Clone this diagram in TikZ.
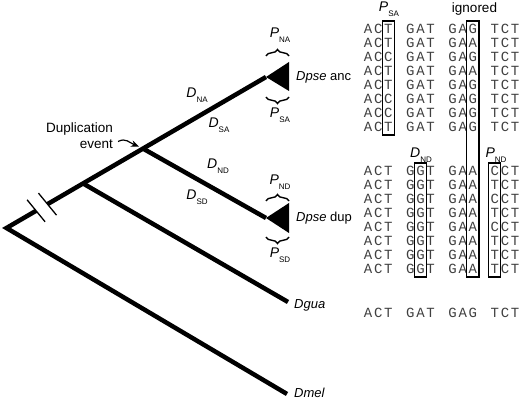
\documentclass[tikz,border=0pt]{standalone}
\usepackage{fontspec}
\setmainfont{Liberation Sans}
\newfontfamily\seqfont{Liberation Mono}
\usetikzlibrary{arrows.meta,calc,fit,decorations.pathreplacing}
\newcommand{\sublbl}[2]{\textit{#1}\raisebox{-4.5pt}{\fontsize{8}{8}\selectfont #2}}

\begin{document}
\begin{tikzpicture}[x=1pt, y=-1pt,
    % Tree styles
    branch/.style={line width=4.5pt},
    clade/.style={fill=black},
    brk/.style={line width=1.3pt},
    pbrace/.style={decorate, decoration={brace, amplitude=6.5pt}, line width=1.4pt},
    taxon/.style={anchor=west, inner sep=0pt, font=\fontsize{13}{15}\selectfont},
    note/.style={inner sep=0pt, font=\fontsize{13.5}{15.5}\selectfont},
    dlabel/.style={anchor=base, inner sep=0pt, font=\fontsize{14}{16}\selectfont},
    evarrow/.style={-{Stealth[length=8pt,width=6.5pt]}, line width=1.2pt},
    % Alignment styles
    seqchar/.style={font=\seqfont\fontsize{14}{14}\selectfont, text=black!75, minimum width=10.2pt, minimum height=14pt, inner sep=0pt},
    colbox/.style={draw, line width=1.2pt, inner sep=0.8pt}
]
\useasboundingbox (0,0) rectangle (520,401);

% Tree points
\coordinate (root) at (6.5,228);
\coordinate (ancA) at (266,77);
\coordinate (gua) at ($(root)!0.295!(ancA)$);
\coordinate (dupl) at ($(root)!0.526!(ancA)$);
\coordinate (brkA) at ($(root)!0.114!(ancA)$);
\coordinate (brkB) at ($(root)!0.158!(ancA)$);
\coordinate (dupA) at (266,218);
\coordinate (guaE) at (288,302);
\coordinate (melE) at (287,394);

% Branches
\draw[branch] (brkA) -- (root) -- (melE);
\draw[branch] (brkB) -- (ancA);
\draw[branch] (dupl) -- (dupA);
\draw[branch] (gua) -- (guaE);
\draw[brk] ($(brkA)+(-9,-11)$) -- ($(brkA)+(9,11)$);
\draw[brk] ($(brkB)+(-9,-11)$) -- ($(brkB)+(9,11)$);

% Collapsed clades
\fill[clade] (ancA) -- ++(23,-15) -- ++(0,29) -- cycle;
\fill[clade] (dupA) -- ++(23,-15) -- ++(0,30) -- cycle;

% Braces and P labels
\draw[pbrace] (266,56) -- (289,56);
\draw[pbrace] (289,97) -- (266,97);
\draw[pbrace] (266,201) -- (289,201);
\draw[pbrace] (289,237) -- (266,237);
\node[dlabel] (pna) at (280,38) {\sublbl{P}{NA}};
\node[dlabel] (psa) at (280,118) {\sublbl{P}{SA}};
\node[dlabel] (pnd) at (280,185) {\sublbl{P}{ND}};
\node[dlabel] (psd) at (280,258) {\sublbl{P}{SD}};

% Branch labels
\node[dlabel] (dna) at (197,98) {\sublbl{D}{NA}};
\node[dlabel] (dsa) at (219,128) {\sublbl{D}{SA}};
\node[dlabel] (dnd) at (218,169) {\sublbl{D}{ND}};
\node[dlabel] (dsd) at (197,200) {\sublbl{D}{SD}};

% Taxa
\node[taxon] (ancname) at (296,77) {\textit{Dpse} anc};
\node[taxon] (dupname) at (296,218) {\textit{Dpse} dup};
\node[taxon] (guaname) at (294,305) {\textit{Dgua}};
\node[taxon] (melname) at (294,393) {\textit{Dmel}};

% Duplication event
\node[note, anchor=east, align=right] (dupev) at (113,135.5) {Duplication\\event};
\draw[evarrow] ($(dupev.east)+(5,6)$) .. controls ($(dupev.east)+(13,2)$) and ($(dupl)+(-14,-6)$) .. ($(dupl)+(-4,-2)$);

% Alignment: Dpse anc copies
\foreach \seq [count=\r from 0] in {
    {A,C,T,G,A,T,G,A,G,T,C,T},
    {A,C,T,G,A,T,G,A,A,T,C,T},
    {A,C,C,G,A,T,G,A,G,T,C,T},
    {A,C,T,G,A,T,G,A,A,T,C,T},
    {A,C,T,G,A,T,G,A,G,T,C,T},
    {A,C,C,G,A,T,G,A,G,T,C,T},
    {A,C,C,G,A,T,G,A,G,T,C,T},
    {A,C,T,G,A,T,G,A,G,T,C,T}}
  \foreach \b [count=\c from 0] in \seq {
    \pgfmathsetmacro{\xx}{368+42.25*floor(\c/3)+10.2*mod(\c,3)}
    \node[seqchar] (a\r-\c) at (\xx,29+14*\r) {\b};
  }

% Alignment: Dpse dup copies
\foreach \seq [count=\r from 0] in {
    {A,C,T,G,G,T,G,A,A,C,C,T},
    {A,C,T,G,G,T,G,A,A,T,C,T},
    {A,C,T,G,G,T,G,A,A,C,C,T},
    {A,C,T,G,G,T,G,A,A,T,C,T},
    {A,C,T,G,G,T,G,A,A,C,C,T},
    {A,C,T,G,G,T,G,A,A,T,C,T},
    {A,C,T,G,G,T,G,A,A,T,C,T},
    {A,C,T,G,G,T,G,A,A,T,C,T}}
  \foreach \b [count=\c from 0] in \seq {
    \pgfmathsetmacro{\xx}{368+42.25*floor(\c/3)+10.2*mod(\c,3)}
    \node[seqchar] (d\r-\c) at (\xx,171+14*\r) {\b};
  }

% Alignment: Dgua
\foreach \b [count=\c from 0] in {A,C,T,G,A,T,G,A,G,T,C,T} {
  \pgfmathsetmacro{\xx}{368+42.25*floor(\c/3)+10.2*mod(\c,3)}
  \node[seqchar] (g0-\c) at (\xx,313) {\b};
}

% Site boxes
\node[colbox, fit=(a0-2)(a7-2)] (psabox) {};
\node[colbox, fit=(a0-8)(d7-8)] (ignbox) {};
\node[colbox, fit=(d0-4)(d7-4)] (dndbox) {};
\node[colbox, fit=(d0-9)(d7-9)] (pndbox) {};

% Site labels
\node[dlabel] (psatop) at (389,12) {\sublbl{P}{SA}};
\node[note, anchor=base] (ignlbl) at (474.5,13) {ignored};
\node[dlabel] (dndtop) at (421,158) {\sublbl{D}{ND}};
\node[dlabel] (pndtop) at (496,158) {\sublbl{P}{ND}};

\end{tikzpicture}
\end{document}
